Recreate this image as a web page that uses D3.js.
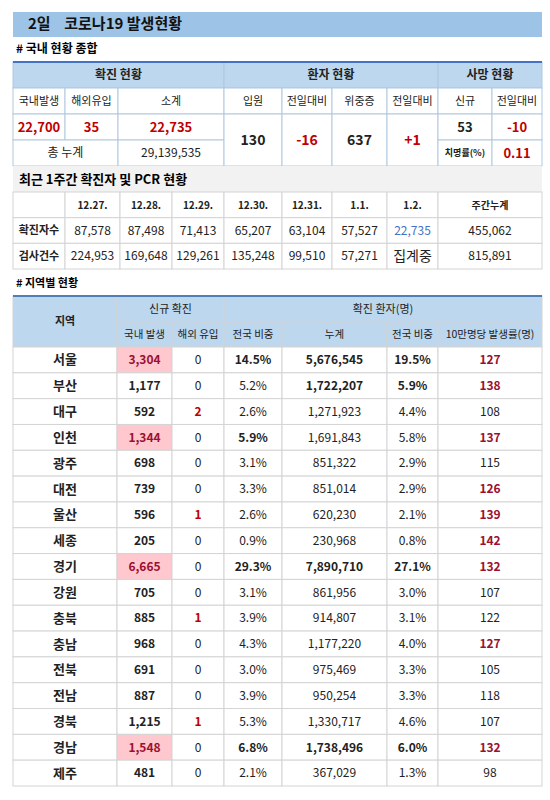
<!DOCTYPE html>
<html><head><meta charset="utf-8">
<script src="https://cdn.jsdelivr.net/npm/d3@7"></script>
<style>body{margin:0;background:#fff}text{font-family:"Noto Sans CJK KR","Noto Sans",sans-serif}</style>
</head><body><svg id="c" width="550" height="800"></svg>
<script>
const summaryHeaders=["국내발생","해외유입","소계","입원","전일대비","위중증","전일대비","신규","전일대비"];
const summaryGroups=["확진 현황","환자 현황","사망 현황"];
const confirmed=["22,700","35","22,735"];
const totalCum="29,139,535";
const hospital=["130","-16","637","+1"];
const deaths=["53","-10"];
const fatality="0.11";
const weekDates=["12.27.","12.28.","12.29.","12.30.","12.31.","1.1.","1.2.","주간누계"];
const weekCases=["87,578","87,498","71,413","65,207","63,104","57,527","22,735","455,062"];
const weekTests=["224,953","169,648","129,261","135,248","99,510","57,271","집계중","815,891"];
const regions=["서울","부산","대구","인천","광주","대전","울산","세종","경기","강원","충북","충남","전북","전남","경북","경남","제주"];
const local=["3,304","1,177","592","1,344","698","739","596","205","6,665","705","885","968","691","887","1,215","1,548","481"];
const overseas=["0","0","2","0","0","0","1","0","0","0","1","0","0","0","1","0","0"];
const share=["14.5%","5.2%","2.6%","5.9%","3.1%","3.3%","2.6%","0.9%","29.3%","3.1%","3.9%","4.3%","3.0%","3.9%","5.3%","6.8%","2.1%"];
const cum=["5,676,545","1,722,207","1,271,923","1,691,843","851,322","851,014","620,230","230,968","7,890,710","861,956","914,807","1,177,220","975,469","950,254","1,330,717","1,738,496","367,029"];
const cumShare=["19.5%","5.9%","4.4%","5.8%","2.9%","2.9%","2.1%","0.8%","27.1%","3.0%","3.1%","4.0%","3.3%","3.3%","4.6%","6.0%","1.3%"];
const rate=["127","138","108","137","115","126","139","142","132","107","122","127","105","118","107","132","98"];

const svg=d3.select("#c");
const X=[13,65,118,224,282,332,387,438,492,542];
const XW=[13,65,120,172,224,282,332,387,438,542];
const XR=[13,117,172,224,282,387,438,542];
const RED="#c00000",DRED="#9b1030",BORDER="#d4d4d4",HBG="#bdd7ee";
function cell(x0,x1,y0,y1,o={}){
  svg.append("rect").attr("x",x0).attr("y",y0).attr("width",x1-x0).attr("height",y1-y0)
   .attr("fill",o.bg||"#fff").attr("stroke",o.stroke||BORDER).attr("stroke-width",1);
  if(o.t!==undefined) svg.append("text").attr("x",(x0+x1)/2).attr("y",(y0+y1)/2+1)
   .attr("text-anchor","middle").attr("dominant-baseline","middle")
   .attr("font-size",o.fs||12).attr("font-weight",o.b?"bold":"normal").attr("fill",o.c||"#222").text(o.t);
}
// title
svg.append("rect").attr("x",13).attr("y",12).attr("width",529).attr("height",25).attr("fill","#9dc3e6");
svg.append("text").attr("x",28).attr("y",25).attr("dominant-baseline","middle").attr("font-size",15).attr("font-weight","bold").attr("fill","#111").attr("xml:space","preserve").text("2일    코로나19 발생현황");
svg.append("text").attr("x",16).attr("y",50).attr("dominant-baseline","middle").attr("font-size",12).attr("font-weight","bold").text("# 국내 현황 종합");
// summary table
const yS=d3.scaleLinear().domain([0,4]).range([62,166]);
const TB="#b0c8e0";
cell(X[0],X[3],yS(0),yS(1),{bg:HBG,t:summaryGroups[0],b:1,stroke:TB});
cell(X[3],X[7],yS(0),yS(1),{bg:HBG,t:summaryGroups[1],b:1,stroke:TB});
cell(X[7],X[9],yS(0),yS(1),{bg:HBG,t:summaryGroups[2],b:1,stroke:TB});
summaryHeaders.forEach((h,i)=>cell(X[i],X[i+1],yS(1),yS(2),{t:h,fs:11,stroke:TB}));
confirmed.forEach((v,i)=>cell(X[i],X[i+1],yS(2),yS(3),{t:v,c:RED,b:1,fs:13,stroke:TB}));
cell(X[0],X[2],yS(3),yS(4),{t:"총 누계",fs:12,stroke:TB});
cell(X[2],X[3],yS(3),yS(4),{t:totalCum,fs:12,stroke:TB});
hospital.forEach((v,i)=>cell(X[3+i],X[4+i],yS(2),yS(4),{t:v,b:1,fs:14,c:i%2?RED:"#222",stroke:TB}));
cell(X[7],X[8],yS(2),yS(3),{t:deaths[0],b:1,fs:13,stroke:TB});
cell(X[8],X[9],yS(2),yS(3),{t:deaths[1],b:1,fs:13,c:RED,stroke:TB});
cell(X[7],X[8],yS(3),yS(4),{t:"치명률(%)",b:1,fs:9,stroke:TB});
cell(X[8],X[9],yS(3),yS(4),{t:fatality,b:1,fs:13,c:RED,stroke:TB});
svg.append("line").attr("x1",13).attr("x2",542).attr("y1",62).attr("y2",62).attr("stroke","#4472c4").attr("stroke-width",2);
// week section
svg.append("rect").attr("x",13).attr("y",166).attr("width",529).attr("height",26).attr("fill","#f2f2f2");
svg.append("text").attr("x",19).attr("y",180).attr("dominant-baseline","middle").attr("font-size",13).attr("font-weight","bold").text("최근 1주간 확진자 및 PCR 현황");
const yW=d3.scaleLinear().domain([0,3]).range([192,269]);
cell(XW[0],XW[1],yW(0),yW(1),{t:""});
weekDates.forEach((d,i)=>cell(XW[i+1],XW[i+2],yW(0),yW(1),{t:d,b:1,fs:10}));
cell(XW[0],XW[1],yW(1),yW(2),{t:"확진자수",b:1,fs:11});
weekCases.forEach((d,i)=>cell(XW[i+1],XW[i+2],yW(1),yW(2),{t:d,fs:12,c:i===6?"#4472c4":"#222"}));
cell(XW[0],XW[1],yW(2),yW(3),{t:"검사건수",b:1,fs:11});
weekTests.forEach((d,i)=>cell(XW[i+1],XW[i+2],yW(2),yW(3),{t:d,fs:i===6?14:12}));
// regions
svg.append("text").attr("x",16).attr("y",284).attr("dominant-baseline","middle").attr("font-size",11).attr("font-weight","bold").text("# 지역별 현황");
cell(XR[0],XR[1],296,347,{bg:HBG,t:"지역",b:1,fs:11});
cell(XR[1],XR[3],296,322,{bg:HBG,t:"신규 확진",fs:11});
cell(XR[3],XR[7],296,322,{bg:HBG,t:"확진 환자(명)",fs:11});
["국내 발생","해외 유입","전국 비중","누계","전국 비중","10만명당 발생률(명)"].forEach((h,i)=>cell(XR[i+1],XR[i+2],322,347,{bg:HBG,t:h,fs:10.5}));
svg.append("line").attr("x1",13).attr("x2",542).attr("y1",296).attr("y2",296).attr("stroke","#4f7fb8").attr("stroke-width",2);
const yR=d3.scaleBand().domain(regions).range([347,786]);
const highlight=new Set(["서울","인천","경기","경남"]);
const highRate=v=>+v>=125;
regions.forEach((r,i)=>{
  const y0=yR(r),y1=y0+yR.bandwidth();
  const hl=highlight.has(r);
  cell(XR[0],XR[1],y0,y1,{t:r,b:1,fs:13});
  cell(XR[1],XR[2],y0,y1,{t:local[i],b:1,fs:12,bg:hl?"#ffc7ce":"#fff",c:hl?DRED:"#222"});
  cell(XR[2],XR[3],y0,y1,{t:overseas[i],fs:12,b:overseas[i]!=="0",c:overseas[i]!=="0"?RED:"#222"});
  cell(XR[3],XR[4],y0,y1,{t:share[i],fs:12,b:["서울","인천","경기","경남"].includes(r)});
  cell(XR[4],XR[5],y0,y1,{t:cum[i],fs:12,b:["서울","부산","경기","경남"].includes(r)});
  cell(XR[5],XR[6],y0,y1,{t:cumShare[i],fs:12,b:["서울","부산","경기","경남"].includes(r)});
  cell(XR[6],XR[7],y0,y1,{t:rate[i],fs:12,b:highRate(rate[i]),c:highRate(rate[i])?DRED:"#222"});
});
</script></body></html>
